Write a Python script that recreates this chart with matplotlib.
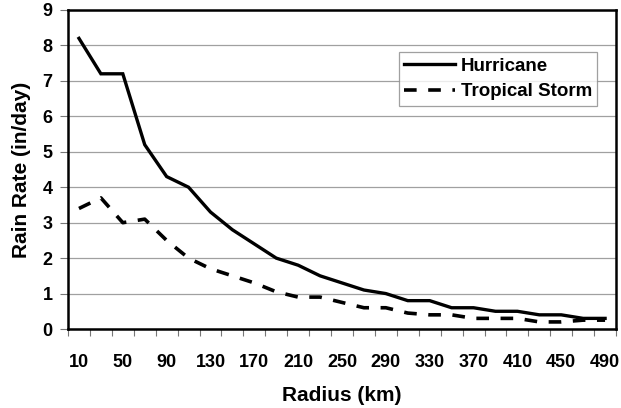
import matplotlib
matplotlib.use("Agg")
import matplotlib.pyplot as plt
import numpy as np

radius = [10, 30, 50, 70, 90, 110, 130, 150, 170, 190, 210, 230, 250,
          270, 290, 310, 330, 350, 370, 390, 410, 430, 450, 470, 490]
hurricane = [8.2, 7.2, 7.2, 5.2, 4.3, 4.0, 3.3, 2.8, 2.4, 2.0, 1.8, 1.5, 1.3,
             1.1, 1.0, 0.8, 0.8, 0.6, 0.6, 0.5, 0.5, 0.4, 0.4, 0.3, 0.3]
tropical = [3.4, 3.7, 3.0, 3.1, 2.5, 2.0, 1.7, 1.5, 1.3, 1.05, 0.9, 0.9, 0.75,
            0.6, 0.6, 0.45, 0.4, 0.4, 0.3, 0.3, 0.3, 0.2, 0.2, 0.25, 0.25]

plt.rcParams['font.family'] = ['Liberation Sans', 'DejaVu Sans']

fig = plt.figure(figsize=(6.21, 4.08), dpi=100)
ax = fig.add_axes([0.1095, 0.1936, 0.8825, 0.7819])

x = np.arange(len(radius))
ax.plot(x, hurricane, color='black', lw=2.4, label='Hurricane', solid_joinstyle='miter')
ax.plot(x, tropical, color='black', lw=2.6, linestyle=(0, (3.5, 3.2)), label='Tropical Storm')

ax.set_xlim(-0.5, len(radius) - 0.5)
ax.set_ylim(0, 9)
ax.set_yticks(range(0, 10))
ax.yaxis.grid(True, color='#a0a0a0', lw=0.9)
ax.set_axisbelow(True)

ax.set_xticks(x[::2])
ax.set_xticklabels([str(r) for r in radius[::2]], fontsize=13, fontweight='bold')
ax.set_xticks(np.arange(-0.5, len(radius)), minor=True)
ax.tick_params(axis='x', which='major', length=0, pad=18)
ax.tick_params(axis='x', which='minor', length=5, width=0.8, color='#777777', direction='out')
ax.tick_params(axis='y', length=6, width=0.8, color='#777777', pad=5)
for lab in ax.get_yticklabels():
    lab.set_fontsize(13)
    lab.set_fontweight('bold')

for s in ax.spines.values():
    s.set_linewidth(1.8)
    s.set_color('black')

ax.set_xlabel('Radius (km)', fontsize=15, fontweight='bold', labelpad=11)
ax.set_ylabel('Rain Rate (in/day)', fontsize=15, fontweight='bold', labelpad=8)

leg = ax.legend(loc='upper right', bbox_to_anchor=(0.966, 0.868), borderaxespad=0,
                prop={'weight': 'bold', 'size': 13.5}, frameon=True, fancybox=False,
                edgecolor='#888888', handlelength=2.7, handletextpad=0.3,
                borderpad=0.3, labelspacing=0.45)
leg.get_frame().set_linewidth(0.9)

fig.savefig('out.png', dpi=100)
